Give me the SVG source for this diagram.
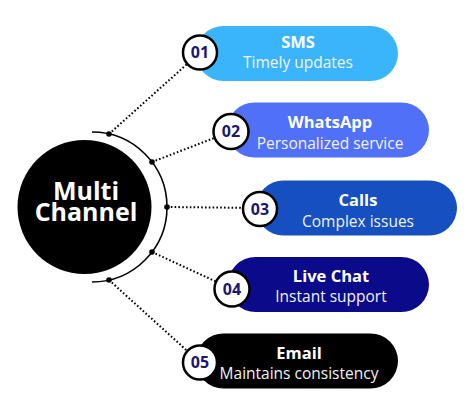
<svg xmlns="http://www.w3.org/2000/svg" width="474" height="417" viewBox="0 0 474 417">
  <style>
    .dot-line { fill: none; stroke: #000; stroke-width: 2; stroke-dasharray: 1.6 2.2; }
    .knob { fill: #000; }
    .badge { fill: #fff; stroke: #000; stroke-width: 2.5; }
    .num { font-family: "Open Sans", "Liberation Sans", sans-serif; font-weight: 700; font-size: 16px; fill: #1b1670; text-anchor: middle; }
    .title { font-family: "Open Sans", "Liberation Sans", sans-serif; font-weight: 700; font-size: 16.5px; fill: #fff; text-anchor: middle; }
    .sub { font-family: "Open Sans", "Liberation Sans", sans-serif; font-weight: 400; font-size: 15.5px; fill: #f2f2f2; text-anchor: middle; }
    .hub { font-family: "Open Sans", "Liberation Sans", sans-serif; font-weight: 700; font-size: 25px; fill: #fff; text-anchor: middle; }
  </style>
  <rect width="474" height="417" fill="#fff"/>

  <g id="connectors">
    <line class="dot-line" x1="109" y1="134" x2="200" y2="52.5"/>
    <line class="dot-line" x1="152" y1="162" x2="231" y2="131.5"/>
    <line class="dot-line" x1="167" y1="207" x2="260" y2="208"/>
    <line class="dot-line" x1="152" y1="252" x2="232" y2="289"/>
    <line class="dot-line" x1="109" y1="280" x2="200" y2="362.5"/>
  </g>

  <g id="hub">
    <circle cx="84.5" cy="207" r="67" fill="#000"/>
    <path d="M92 132 A75 75 0 0 1 92 282" fill="none" stroke="#000" stroke-width="1.6"/>
    <circle class="knob" cx="109" cy="134" r="2.8"/>
    <circle class="knob" cx="152" cy="162" r="2.8"/>
    <circle class="knob" cx="167" cy="207" r="2.8"/>
    <circle class="knob" cx="152" cy="252" r="2.8"/>
    <circle class="knob" cx="109" cy="280" r="2.8"/>
    <text class="hub" x="86" y="200">Multi<tspan x="86" dy="21">Channel</tspan></text>
  </g>

  <g id="node-sms">
    <rect x="196" y="26" width="202" height="55" rx="27.5" fill="#3ab5fb"/>
    <text class="title" x="298" y="48">SMS</text>
    <text class="sub" x="298" y="68">Timely updates</text>
    <circle class="badge" cx="200" cy="52.5" r="17"/>
    <text class="num" x="200" y="58">01</text>
  </g>

  <g id="node-whatsapp">
    <rect x="227" y="102.5" width="202" height="55" rx="27.5" fill="#5170f8"/>
    <text class="title" x="330" y="128">WhatsApp</text>
    <text class="sub" x="330" y="149">Personalized service</text>
    <circle class="badge" cx="231" cy="131.5" r="17.5"/>
    <text class="num" x="231" y="137">02</text>
  </g>

  <g id="node-calls">
    <rect x="256" y="180.5" width="201" height="55" rx="27.5" fill="#154fc0"/>
    <text class="title" x="358" y="206">Calls</text>
    <text class="sub" x="358" y="227">Complex issues</text>
    <circle class="badge" cx="260" cy="209" r="17"/>
    <text class="num" x="260" y="214.5">03</text>
  </g>

  <g id="node-livechat">
    <rect x="228" y="257" width="201" height="55" rx="27.5" fill="#0b0a8a"/>
    <text class="title" x="331" y="282">Live Chat</text>
    <text class="sub" x="331" y="302">Instant support</text>
    <circle class="badge" cx="232" cy="289" r="17.5"/>
    <text class="num" x="232" y="294.5">04</text>
  </g>

  <g id="node-email">
    <rect x="196" y="333.5" width="202" height="55" rx="27.5" fill="#000"/>
    <text class="title" x="299" y="359">Email</text>
    <text class="sub" x="299" y="379">Maintains consistency</text>
    <circle class="badge" cx="200" cy="362.5" r="17"/>
    <text class="num" x="200" y="368">05</text>
  </g>
</svg>
